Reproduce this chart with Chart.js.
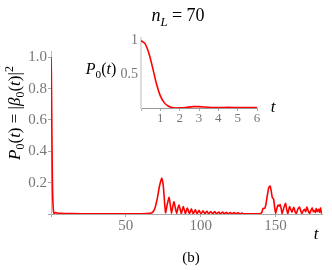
<!DOCTYPE html>
<html>
<head>
<meta charset="utf-8">
<script src="https://cdn.jsdelivr.net/npm/chart.js@4"></script>
<style>
  body { margin: 0; background: #fff; }
  #wrap { position: relative; width: 332px; height: 270px; font-family: "Liberation Serif", "Times New Roman", "DejaVu Serif", serif; overflow: hidden; }
  canvas { position: absolute; }
  .lbl { position: absolute; white-space: nowrap; color: #000; transform: translate(-50%, -50%); line-height: 1; }
  .rot { transform: translate(-50%, -50%) rotate(-90deg); }
  sub, sup { font-size: 70%; line-height: 0; }
</style>
</head>
<body>
<div id="wrap">
  <canvas id="mainChart" width="332" height="270" style="left:0;top:0"></canvas>
  <canvas id="insetChart" width="190" height="105" style="left:100px;top:25px"></canvas>
  <div class="lbl" style="left:178px;top:15px;font-size:18px"><i>n</i><sub><i>L</i></sub> = 70</div>
  <div class="lbl rot" style="left:14px;top:113px;font-size:17px"><i>P</i><sub>0</sub>(<i>t</i>) = |<i>β</i><sub>0</sub>(<i>t</i>)|<sup>2</sup></div>
  <div class="lbl" style="left:101px;top:69px;font-size:16px"><i>P</i><sub>0</sub>(<i>t</i>)</div>
  <div class="lbl" style="left:273px;top:106px;font-size:17px"><i>t</i></div>
  <div class="lbl" style="left:316px;top:233px;font-size:17px"><i>t</i></div>
  <div class="lbl" style="left:191px;top:257px;font-size:15px">(b)</div>
</div>
<script>
// courbe principale P0(t)
const mainT = [0, 0.25, 0.5, 0.75, 1.0, 1.3, 1.7, 2.2, 3, 4, 6, 10, 20, 40, 60, 66, 68, 69.5, 71, 72.5, 74, 75, 75.8, 76.5,
  77.6, 78.9, 79.8, 80.5, 81.4, 82.2, 83.1, 83.9, 84.7, 85.5, 86.4, 87.1, 87.8, 88.4, 89.2, 89.8, 90.5, 91.1, 91.9, 92.5,
  93.2, 93.8, 94.5, 95.1, 95.8, 96.4, 97.1, 97.7, 98.3, 98.9, 99.6, 100.3, 101, 101.6, 102.3, 102.9, 103.6, 104.2,
  104.9, 105.5, 106.2, 106.8, 107.5, 108.1, 108.8, 109.4, 110.1, 110.7, 111.4, 112, 112.7, 113.3, 114, 114.6, 115.3,
  115.9, 116.6, 117.2, 117.9, 118.5, 119.2, 119.8, 120.5, 121.1, 121.8, 122.4, 123.1, 123.7, 124.4, 125, 125.7, 126.3,
  127, 127.6, 128.3, 130, 135, 139.5, 140.8, 141.6, 142.8, 143.5, 144.5, 145.5, 146.4, 147.2, 147.8, 148.7, 149.4, 150,
  151, 151.6, 152.4, 153.1, 153.8, 154.4, 155.5, 156.7, 157.4, 158.2, 159.3, 160.1, 160.9, 161.6, 162.2, 163, 163.8,
  164.8, 166, 166.8, 167.6, 168.4, 169.3, 170.1, 170.9, 171.8, 172.7, 173.5, 174.4, 175.2, 176, 176.6, 177.1, 177.9,
  178.7, 179.3, 180, 180.5, 181];
const mainP = [1, 0.9, 0.62, 0.36, 0.17, 0.07, 0.015, 0.003, 0.01, 0.006, 0.004, 0.003, 0.002, 0.002, 0.002, 0.004, 0.012, 0.04, 0.1, 0.18, 0.23, 0.18, 0.08, 0.008,
  0.06, 0.106, 0.05, 0.004, 0.05, 0.078, 0.035, 0.003, 0.035, 0.057, 0.025, 0.003, 0.03, 0.047, 0.02, 0.003, 0.025, 0.038, 0.015, 0.003,
  0.02, 0.032, 0.012, 0.003, 0.017, 0.027, 0.01, 0.003, 0.015, 0.023, 0.009, 0.003, 0.013, 0.02, 0.007, 0.003, 0.012, 0.018,
  0.006, 0.003, 0.011, 0.016, 0.006, 0.003, 0.01, 0.015, 0.005, 0.003, 0.009, 0.013, 0.004, 0.003, 0.008, 0.012, 0.004,
  0.003, 0.007, 0.011, 0.004, 0.003, 0.007, 0.01, 0.003, 0.003, 0.006, 0.009, 0.003, 0.003, 0.005, 0.008, 0.003, 0.002,
  0.004, 0.006, 0.002, 0.002, 0.002, 0.002, 0.01, 0.035, 0.037, 0.06, 0.12, 0.17, 0.178, 0.14, 0.106, 0.094, 0.04, 0.003,
  0.04, 0.057, 0.05, 0.06, 0.03, 0.003, 0.04, 0.068, 0.03, 0.003, 0.047, 0.03, 0.012, 0.03, 0.042, 0.015, 0.003,
  0.03, 0.045, 0.02, 0.003, 0.02, 0.03, 0.015, 0.045, 0.02, 0.003, 0.02, 0.04, 0.015, 0.022, 0.01, 0.035, 0.015,
  0.03, 0.012, 0.04, 0.01, 0.003];

// encart : zoom sur 0 <= t <= 6
const insetT = [0, 0.2, 0.4, 0.6, 0.8, 1.0, 1.2, 1.4, 1.6, 1.8, 2.0, 2.3, 2.7, 3.0, 3.5, 4, 4.5, 5, 5.5, 6];
const insetP = [1, 0.96, 0.82, 0.6, 0.36, 0.18, 0.08, 0.03, 0.008, 0.0, 0.002, 0.008, 0.02, 0.02, 0.012, 0.007, 0.009, 0.007, 0.006, 0.007];

const mainXTicks = [0, 50, 100, 150];
const mainYTicks = [0, 0.2, 0.4, 0.6, 0.8, 1.0];
const insetXTicks = [0, 1, 2, 3, 4, 5, 6];
const insetYTicks = [0, 0.5, 1];

const serif = '"Liberation Serif", "Times New Roman", "DejaVu Serif", serif';
const tickFont = { family: serif, size: 15 };
const pts = (ts, ps) => ts.map((t, i) => ({ x: t, y: ps[i] }));

// graphique principal
new Chart(document.getElementById('mainChart'), {
  type: 'line',
  data: {
    datasets: [{
      data: pts(mainT, mainP),
      borderColor: '#ff0000',
      borderWidth: 1.6,
      pointRadius: 0,
      tension: 0.15,
      fill: false
    }]
  },
  options: {
    responsive: false,
    animation: false,
    layout: { padding: { top: 51, right: 10, left: 0, bottom: 0 } },
    plugins: { legend: { display: false }, tooltip: { enabled: false } },
    scales: {
      x: {
        type: 'linear', min: 0, max: 181,
        afterBuildTicks: s => { s.ticks = mainXTicks.map(v => ({ value: v })); },
        afterFit: s => { s.height = 56; },
        grid: { drawOnChartArea: false, tickLength: 3, color: '#aaa' },
        border: { color: '#aaa', width: 1 },
        ticks: { color: '#777', font: tickFont, padding: 0, maxRotation: 0, callback: v => v === 0 ? '' : v }
      },
      y: {
        type: 'linear', min: 0, max: 1.04,
        afterBuildTicks: s => { s.ticks = mainYTicks.map(v => ({ value: v })); },
        afterFit: s => { s.width = 51; },
        grid: { drawOnChartArea: false, tickLength: 3, color: '#aaa' },
        border: { color: '#bbb', width: 1 },
        ticks: { color: '#777', font: tickFont, padding: 1, callback: v => v === 0 ? '' : v.toFixed(1) }
      }
    }
  }
});

// encart
new Chart(document.getElementById('insetChart'), {
  type: 'line',
  data: {
    datasets: [{
      data: pts(insetT, insetP),
      borderColor: '#ff0000',
      borderWidth: 1.6,
      pointRadius: 0,
      tension: 0.3,
      fill: false
    }]
  },
  options: {
    responsive: false,
    animation: false,
    layout: { padding: { top: 13, right: 33, left: 0, bottom: 0 } },
    plugins: { legend: { display: false }, tooltip: { enabled: false } },
    scales: {
      x: {
        type: 'linear', min: 0, max: 6,
        afterBuildTicks: s => { s.ticks = insetXTicks.map(v => ({ value: v })); },
        afterFit: s => { s.height = 22; },
        grid: { drawOnChartArea: false, tickLength: 3, color: '#aaa' },
        border: { color: '#999', width: 1 },
        ticks: { color: '#777', font: { family: serif, size: 13 }, padding: 0, maxRotation: 0, callback: v => v === 0 ? '' : v }
      },
      y: {
        type: 'linear', min: 0, max: 1.04,
        afterBuildTicks: s => { s.ticks = insetYTicks.map(v => ({ value: v })); },
        afterFit: s => { s.width = 41; },
        grid: { drawOnChartArea: false, tickLength: 0, color: '#ccc' },
        border: { color: '#ddd', width: 2 },
        ticks: { color: '#777', font: { family: serif, size: 14 }, padding: 3, callback: v => v === 0 ? '' : String(v) }
      }
    }
  }
});
</script>
</body>
</html>
